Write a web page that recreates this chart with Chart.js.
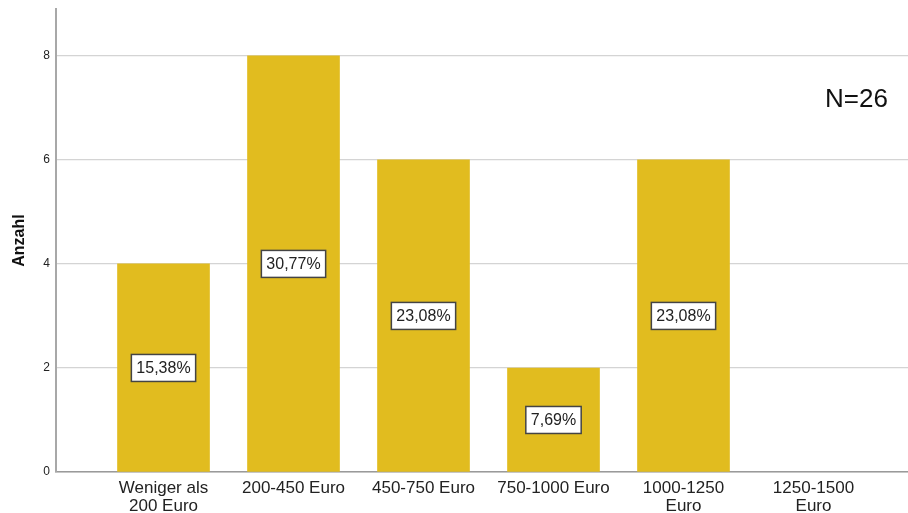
<!DOCTYPE html>
<html>
<head>
<meta charset="utf-8">
<script src="https://cdn.jsdelivr.net/npm/chart.js@4.4.1/dist/chart.umd.min.js"></script>
<style>
    html, body { margin: 0; padding: 0; background: #fff; }
    #wrap { width: 908px; height: 513px; position: relative; }
</style>
</head>
<body>
<div id="wrap"><canvas id="chart"></canvas></div>
<script>
// Data
const categories = [
    ['Weniger als', '200 Euro'],
    ['200-450 Euro'],
    ['450-750 Euro'],
    ['750-1000 Euro'],
    ['1000-1250', 'Euro'],
    ['1250-1500', 'Euro']
];
const counts = [4, 8, 6, 2, 6, 0];
const yTicks = [0, 2, 4, 6, 8];
const total = 26;

const barColor = '#E1BC1F';
const font = "'Liberation Sans', Arial, sans-serif";

// Percent boxes in the middle of each bar
const percentBoxes = {
    id: 'percentBoxes',
    afterDatasetsDraw(chart) {
        const ctx = chart.ctx;
        const meta = chart.getDatasetMeta(0);
        ctx.save();
        ctx.font = '16px ' + font;
        ctx.textAlign = 'center';
        ctx.textBaseline = 'middle';
        meta.data.forEach((bar, i) => {
            if (!counts[i]) return;
            const label = (counts[i] / total * 100).toFixed(2).replace('.', ',') + '%';
            const yMid = chart.scales.y.getPixelForValue(counts[i] / 2);
            const w = ctx.measureText(label).width + 10;
            const h = 27;
            ctx.fillStyle = '#fff';
            ctx.fillRect(bar.x - w / 2, yMid - h / 2, w, h);
            ctx.lineWidth = 1.5;
            ctx.strokeStyle = '#444';
            ctx.strokeRect(bar.x - w / 2, yMid - h / 2, w, h);
            ctx.fillStyle = '#222';
            ctx.fillText(label, bar.x, yMid + 1);
        });
        ctx.restore();
    }
};

// "N=26" note in the upper right
const nNote = {
    id: 'nNote',
    afterDraw(chart) {
        const ctx = chart.ctx;
        ctx.save();
        ctx.font = '26px ' + font;
        ctx.fillStyle = '#111';
        ctx.textAlign = 'left';
        ctx.textBaseline = 'alphabetic';
        ctx.fillText('N=' + total, 825, 107);
        ctx.restore();
    }
};

new Chart(document.getElementById('chart'), {
    type: 'bar',
    data: {
        datasets: [{
            data: counts.map((v, i) => ({ x: i, y: v })),
            backgroundColor: ctx => counts[ctx.dataIndex] ? barColor : 'rgba(0,0,0,0)',
            borderWidth: 0,
            barThickness: 92
        }]
    },
    options: {
        responsive: true,
        maintainAspectRatio: false,
        animation: false,
        layout: { padding: { top: 9, right: 0, left: 0, bottom: 0 } },
        plugins: {
            legend: { display: false },
            tooltip: { enabled: false }
        },
        scales: {
            x: {
                type: 'linear',
                offset: false,
                bounds: 'data',
                min: -0.827,
                max: 5.727,
                grid: { display: false, drawTicks: false },
                border: { display: true, color: '#9a9a9a', width: 1.5 },
                afterBuildTicks: axis => { axis.ticks = categories.map((_, i) => ({ value: i })); },
                afterFit: axis => { axis.height = 41; },
                ticks: {
                    autoSkip: false,
                    maxRotation: 0,
                    padding: 7,
                    color: '#222',
                    font: { family: font, size: 17, lineHeight: 1.07 },
                    callback: value => categories[value] || ''
                }
            },
            y: {
                min: 0,
                max: 8.9,
                grid: { color: '#d4d4d4', lineWidth: 1.2, drawTicks: false },
                border: { display: true, color: '#a8a8a8', width: 2 },
                afterBuildTicks: axis => { axis.ticks = yTicks.map(v => ({ value: v })); },
                afterFit: axis => {
                    axis.width = 56;
                    axis.paddingTop = 0;
                    axis.paddingBottom = 0;
                },
                ticks: {
                    padding: 6,
                    color: '#222',
                    font: { family: font, size: 12 }
                },
                title: {
                    display: true,
                    text: 'Anzahl',
                    color: '#111',
                    padding: { top: 10, bottom: 4 },
                    font: { family: font, size: 16, weight: 'bold' }
                }
            }
        }
    },
    plugins: [percentBoxes, nNote]
});
</script>
</body>
</html>
